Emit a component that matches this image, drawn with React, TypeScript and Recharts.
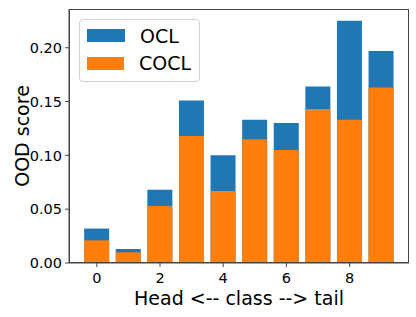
import React from "react";
import { BarChart, Bar, XAxis, YAxis } from "recharts";

const classes = [0, 1, 2, 3, 4, 5, 6, 7, 8, 9];
const oclScores = [0.032, 0.013, 0.068, 0.151, 0.1, 0.133, 0.13, 0.164, 0.225, 0.197];
const coclScores = [0.021, 0.01, 0.053, 0.118, 0.067, 0.115, 0.105, 0.143, 0.133, 0.163];
const yTicks = [0, 0.05, 0.1, 0.15, 0.2];

const BLUE = "#1f77b4";
const ORANGE = "#ff7f0e";
const FONT = "DejaVu Sans, sans-serif";

const data = classes.map((c, i) => ({ cls: c, ocl: oclScores[i], cocl: coclScores[i] }));

function LegendBox() {
  const items = [
    { name: "OCL", color: BLUE },
    { name: "COCL", color: ORANGE },
  ];
  return (
    <div
      style={{
        position: "absolute",
        left: 79,
        top: 19,
        border: "1px solid #d0d0d0",
        borderRadius: 4,
        background: "rgba(255,255,255,0.8)",
        padding: "2px 8px 4px 7px",
        width: 121,
        boxSizing: "border-box",
        fontFamily: FONT,
      }}
    >
      {items.map((it) => (
        <div key={it.name} style={{ display: "flex", alignItems: "center", height: 27.5 }}>
          <span style={{ display: "inline-block", width: 38, height: 13, background: it.color }} />
          <span style={{ marginLeft: 15, fontSize: 19, color: "#000" }}>{it.name}</span>
        </div>
      ))}
    </div>
  );
}

export default function App() {
  return (
    <div style={{ position: "absolute", left: 0, top: 0, width: 416, height: 317, background: "#fff" }}>
      <BarChart
        width={416}
        height={317}
        data={data}
        margin={{ top: 9, right: 7, bottom: 0, left: 0 }}
        barCategoryGap="10%"
      >
        <XAxis
          xAxisId="main"
          dataKey="cls"
          interval={1}
          padding={{ left: 12, right: 12 }}
          height={54}
          stroke="#444"
          tickSize={4}
          tickMargin={6}
          tick={{ fill: "#000", fontSize: 14.5, fontFamily: FONT }}
          label={{ value: "Head <-- class --> tail", position: "insideBottom", offset: 12, fill: "#000", fontSize: 19, fontFamily: FONT }}
        />
        <XAxis xAxisId="back" dataKey="cls" hide orientation="top" height={0} padding={{ left: 12, right: 12 }} />
        <YAxis
          domain={[0, 0.236]}
          ticks={yTicks}
          width={69}
          stroke="#444"
          tickSize={4}
          tickMargin={3}
          tickFormatter={(v: number) => v.toFixed(2)}
          tick={{ fill: "#000", fontSize: 14.5, fontFamily: FONT }}
          label={{ value: "OOD score", angle: -90, position: "insideLeft", offset: 22, fill: "#000", fontSize: 19, fontFamily: FONT, style: { textAnchor: "middle" } }}
        />
        <Bar xAxisId="back" dataKey="ocl" name="OCL" fill={BLUE} isAnimationActive={false} />
        <Bar xAxisId="main" dataKey="cocl" name="COCL" fill={ORANGE} isAnimationActive={false} />
      </BarChart>
      <div
        style={{
          position: "absolute",
          left: 69,
          top: 9,
          width: 340,
          height: 254,
          border: "1px solid #444",
          boxSizing: "border-box",
          pointerEvents: "none",
        }}
      />
      <LegendBox />
    </div>
  );
}
